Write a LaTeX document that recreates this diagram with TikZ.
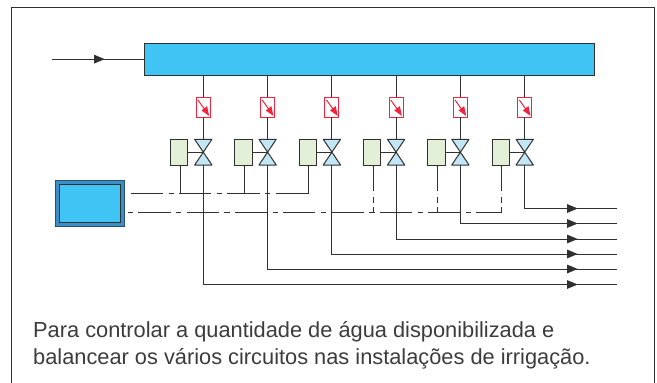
\documentclass[tikz,border=0pt]{standalone}
\usepackage{fontspec}
\setmainfont{Liberation Sans}
\usetikzlibrary{arrows.meta,decorations.markings,calc}
\definecolor{ln}{HTML}{303030}
\definecolor{hdrblue}{HTML}{40C4F4}
\definecolor{valveblue}{HTML}{C2E6F6}
\definecolor{greenbox}{HTML}{E3EFD6}
\definecolor{redline}{HTML}{F0243C}
\definecolor{ctrlblue}{HTML}{3A8FC8}
\definecolor{ctrledge}{HTML}{2A4F6E}
\definecolor{txt}{HTML}{3C3C3C}
\tikzset{
  wire/.style={draw=ln,line width=0.9pt},
  header/.style={draw=ln,line width=1pt,fill=hdrblue,minimum width=450.5pt,minimum height=31.7pt,inner sep=0pt,outer sep=0pt},
  sensor/.style={draw=redline,line width=0.9pt,fill=white,minimum width=14pt,minimum height=19.7pt,inner sep=0pt,outer sep=0pt},
  actuator/.style={draw=ln,line width=1pt,fill=greenbox,minimum width=17.3pt,minimum height=25.7pt,inner sep=0pt,outer sep=0pt},
  valvebox/.style={minimum width=17.3pt,minimum height=25.7pt,inner sep=0pt,outer sep=0pt},
  ctrlouter/.style={draw=ctrledge,line width=1pt,fill=ctrlblue,minimum width=68.6pt,minimum height=45.7pt,inner sep=0pt,outer sep=0pt},
  ctrlinner/.style={draw=ln,line width=1pt,fill=hdrblue,minimum width=61.4pt,minimum height=38pt,inner sep=0pt,outer sep=0pt},
  flow/.style={wire,postaction={decorate},decoration={markings,mark=at position -39.3pt with {\arrow[ln]{Triangle[length=10.5pt,width=8.5pt]}}}},
  signal/.style={draw=ln,line width=0.9pt,dash pattern=on 32.3pt off 5.5pt on 5.3pt off 5.2pt},
  caption/.style={anchor=base west,inner sep=0pt,text=txt,font=\fontsize{21.8pt}{26pt}\selectfont}
}
\begin{document}
\begin{tikzpicture}[x=1pt,y=-1pt]
\useasboundingbox (0,0) rectangle (657,383);
\draw[draw=ln,line width=1pt] (11.3,383) -- (11.3,7.3) -- (654,7.3) -- (654,383);

\node[header] (hdr) at (369.25,59.15) {};
\coordinate (in) at (52,59.15);
\draw[flow] (in) -- (hdr.west);

\foreach \i/\vx/\oy/\sx in {1/203.3/284.5/180,2/267.6/269/244.3,3/331.9/254/308.7,4/396.1/239/373,5/460.4/223.5/437,6/524.7/208.5/501.3}{
  \node[sensor] (r\i) at (\vx,107.15) {};
  \node[valvebox] (v\i) at (\vx,152.15) {};
  \node[actuator] (g\i) at (\vx-24,152.15) {};
  \coordinate (o\i) at (617,\oy);
  \coordinate (s\i) at (\sx,164.95);
  \draw[wire] (hdr.south -| r\i.north) -- (r\i.north);
  \draw[wire] (r\i.south) -- (v\i.north);
  \draw[draw=ln,line width=1pt,fill=valveblue,line join=round]
    (v\i.north west) -- (v\i.south east) -- (v\i.south west) -- (v\i.north east) -- cycle;
  \draw[wire] (g\i.east) -- (v\i.center);
  \draw[flow] (v\i.south) |- (o\i);
  \draw[draw=redline,line width=1pt] ($(r\i.north west)+(1.6,2.7)$) -- ($(r\i.north west)+(9,13)$);
  \fill[redline] ($(r\i.north west)+(12.8,18.6)$) -- ($(r\i.north west)+(5.2,13.2)$) -- ($(r\i.north west)+(10.8,8.8)$) -- cycle;
}

\node[ctrlouter] (cu) at (90,203.15) {};
\node[ctrlinner] (ci) at (90,203.3) {};

\coordinate (a) at (130.7,193.5);
\coordinate (b) at (127.7,212.5);
\draw[signal] (a) -- (a -| s3);
\draw[signal,dash phase=37.8pt] (b) -- (b -| s6);
\foreach \i in {1,2,3}{
  \draw[wire] (s\i) -- (s\i |- a);
}
\foreach \i in {4,5,6}{
  \draw[draw=ln,line width=0.9pt,dash pattern=on 26pt off 5.7pt on 6pt off 4.3pt on 6pt off 20pt] (s\i) -- (s\i |- b);
}

\node[caption] (l1) at (33,337.5) {Para controlar a quantidade de água disponibilizada e};
\node[caption] (l2) at (33,364.3) {balancear os vários circuitos nas instalações de irrigação.};
\end{tikzpicture}
\end{document}
